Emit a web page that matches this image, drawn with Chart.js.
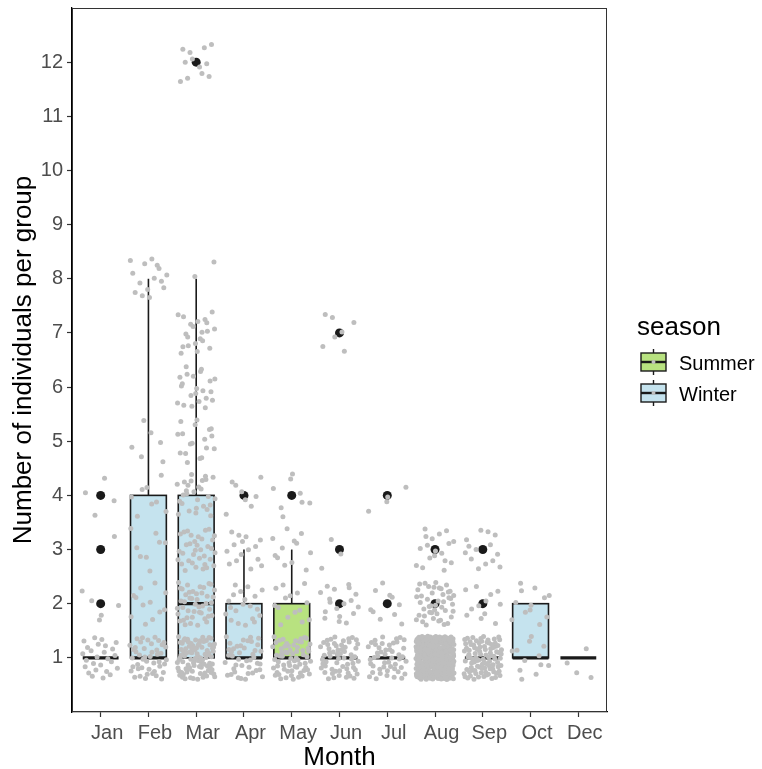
<!DOCTYPE html>
<html>
<head>
<meta charset="utf-8">
<script src="https://cdn.jsdelivr.net/npm/chart.js@4.4.1/dist/chart.umd.min.js"></script>
<style>
  html, body { margin: 0; padding: 0; background: #fff; }
</style>
</head>
<body>
<canvas id="boxChart" width="762" height="769"></canvas>
<script>
// categories and box statistics
const months = ['Jan', 'Feb', 'Mar', 'Apr', 'May', 'Jun', 'Jul', 'Aug', 'Sep', 'Oct', 'Dec'];
const seasons = ['Winter', 'Winter', 'Winter', 'Winter', 'Summer', 'Winter', 'Winter', 'Winter', 'Winter', 'Winter', 'Winter'];
const yTicks = [1, 2, 3, 4, 5, 6, 7, 8, 9, 10, 11, 12];

const q1 = [1, 1, 1, 1, 1, 1, 1, 1, 1, 1, 1];
const medians = [1, 1, 2, 1, 1, 1, 1, 1, 1, 1, 1];
const q3 = [1, 4, 4, 2, 2, 1, 1, 1, 1, 2, 1];
const whiskLow = [1, 1, 1, 1, 1, 1, 1, 1, 1, 1, 1];
const whiskHigh = [1, 8, 8, 3, 3, 1, 1, 1, 1, 2, 1];
const outliers = [[2, 3, 4], [], [12], [4], [4], [2, 3, 7], [2, 4], [2, 3], [2, 3], [], []];

// how many groups of each size (1..12) per month, estimated from the jittered dots
const groupSizes = [1, 2, 3, 4, 5, 6, 7, 8, 9, 10, 11, 12];
const groupCounts = [
  [26, 5, 1, 4],
  [45, 12, 8, 8, 6, 0, 0, 15],
  [90, 45, 35, 28, 18, 22, 21, 2, 0, 0, 0, 12],
  [42, 20, 15, 8],
  [65, 15, 12, 8],
  [58, 18, 3, 0, 0, 0, 7],
  [48, 10, 0, 4],
  [300, 45, 18],
  [95, 12, 14],
  [12, 12],
  [4]
];

const seasonFill = { Summer: 'rgb(184,226,128)', Winter: 'rgb(197,227,238)' };
const legendSeasons = ['Summer', 'Winter'];
const FONT = "'Liberation Sans', Arial, sans-serif";

// jitter: fixed Halton pattern (bases 2 and 3) around each month / group size
function halton(i, b) {
  let f = 1, r = 0;
  while (i > 0) { f /= b; r += f * (i % b); i = Math.floor(i / b); }
  return r;
}
const jitterPoints = [];
groupCounts.forEach((counts, i) => {
  counts.forEach((c, j) => {
    const start = 1 + i * 17 + j * 29;
    for (let k = 0; k < c; k++) {
      const u = halton(start + k, 2);
      const w = halton(start + k, 3);
      jitterPoints.push({ x: i + 1 + (u - 0.5) * 0.8, y: groupSizes[j] + (w - 0.5) * 0.8 });
    }
  });
});

const outlierPoints = [];
outliers.forEach((vals, i) => vals.forEach(v => outlierPoints.push({ x: i + 1, y: v })));

// boxes, whiskers and medians under the dots
const boxPlot = {
  id: 'boxPlot',
  beforeDatasetsDraw(chart) {
    const { ctx, scales: { x, y } } = chart;
    ctx.save();
    ctx.strokeStyle = '#1a1a1a';
    months.forEach((m, i) => {
      const left = x.getPixelForValue(i + 1 - 0.375);
      const right = x.getPixelForValue(i + 1 + 0.375);
      const mid = x.getPixelForValue(i + 1);
      const top = y.getPixelForValue(q3[i]);
      const bottom = y.getPixelForValue(q1[i]);
      ctx.lineWidth = 1.6;
      ctx.beginPath();
      ctx.moveTo(mid, top); ctx.lineTo(mid, y.getPixelForValue(whiskHigh[i]));
      ctx.moveTo(mid, bottom); ctx.lineTo(mid, y.getPixelForValue(whiskLow[i]));
      ctx.stroke();
      if (q3[i] > q1[i]) {
        ctx.fillStyle = seasonFill[seasons[i]];
        ctx.fillRect(left, top, right - left, bottom - top);
        ctx.strokeRect(left, top, right - left, bottom - top);
      }
      const my = y.getPixelForValue(medians[i]);
      ctx.lineWidth = 3.2;
      ctx.beginPath();
      ctx.moveTo(left, my); ctx.lineTo(right, my);
      ctx.stroke();
    });
    ctx.restore();
  }
};

// panel border, axis titles and the season legend
const decorations = {
  id: 'decorations',
  afterDraw(chart) {
    const { ctx, chartArea: a } = chart;
    ctx.save();
    ctx.strokeStyle = '#333';
    ctx.lineWidth = 1;
    ctx.strokeRect(a.left + 0.5, a.top + 0.5, a.right - a.left - 1, a.bottom - a.top - 1);

    ctx.fillStyle = '#000';
    ctx.font = '26px ' + FONT;
    ctx.textAlign = 'center';
    ctx.textBaseline = 'alphabetic';
    ctx.fillText('Month', (a.left + a.right) / 2, 765);
    ctx.save();
    ctx.translate(31, (a.top + a.bottom) / 2);
    ctx.rotate(-Math.PI / 2);
    ctx.fillText('Number of individuals per group', 0, 0);
    ctx.restore();

    ctx.textAlign = 'left';
    ctx.fillText('season', 637, 335);
    ctx.font = '20px ' + FONT;
    legendSeasons.forEach((s, k) => {
      const top = 353 + k * 31;
      const cx = 653.5;
      ctx.strokeStyle = '#1a1a1a';
      ctx.lineWidth = 1.4;
      ctx.beginPath();
      ctx.moveTo(cx, top - 4); ctx.lineTo(cx, top + 22);
      ctx.stroke();
      ctx.fillStyle = seasonFill[s];
      ctx.fillRect(641, top, 25, 18);
      ctx.strokeRect(641, top, 25, 18);
      ctx.lineWidth = 2.4;
      ctx.beginPath();
      ctx.moveTo(641, top + 9); ctx.lineTo(666, top + 9);
      ctx.stroke();
      ctx.fillStyle = '#bebebe';
      ctx.beginPath();
      ctx.arc(cx, top + 9, 2, 0, Math.PI * 2);
      ctx.fill();
      ctx.fillStyle = '#000';
      ctx.fillText(s, 679, top + 17);
    });
    ctx.restore();
  }
};

const tickFont = { family: FONT, size: 20 };

new Chart(document.getElementById('boxChart'), {
  type: 'scatter',
  data: {
    datasets: [
      {
        label: 'groups',
        data: jitterPoints,
        pointRadius: 2.5,
        pointBorderWidth: 0,
        pointBackgroundColor: 'rgb(190,190,190)'
      },
      {
        label: 'outliers',
        data: outlierPoints,
        pointRadius: 4.5,
        pointBorderWidth: 0,
        pointBackgroundColor: '#1a1a1a'
      }
    ]
  },
  options: {
    responsive: false,
    animation: false,
    layout: { autoPadding: false, padding: { left: 0, top: 8, right: 155, bottom: 0 } },
    plugins: { legend: { display: false }, tooltip: { enabled: false } },
    scales: {
      x: {
        type: 'linear',
        min: 0.4,
        max: 11.6,
        afterBuildTicks: s => { s.ticks = months.map((m, i) => ({ value: i + 1 })); },
        afterFit: s => { s.height = 57; s.paddingLeft = 0; s.paddingRight = 0; },
        grid: { drawOnChartArea: false, drawTicks: true, tickLength: 5, tickColor: '#333', tickWidth: 1.2 },
        border: { display: true, color: '#000', width: 1.3 },
        ticks: {
          callback: (v, i) => months[i],
          color: '#4d4d4d',
          font: tickFont,
          padding: 4,
          labelOffset: 6.5,
          maxRotation: 0,
          autoSkip: false
        }
      },
      y: {
        type: 'linear',
        min: 0,
        max: 13,
        afterBuildTicks: s => { s.ticks = yTicks.map(v => ({ value: v })); },
        afterFit: s => { s.width = 72; s.paddingTop = 0; s.paddingBottom = 0; },
        grid: { drawOnChartArea: false, drawTicks: true, tickLength: 5, tickColor: '#333', tickWidth: 1.2 },
        border: { display: true, color: '#000', width: 1.3 },
        ticks: {
          callback: v => String(v),
          color: '#4d4d4d',
          font: tickFont,
          padding: 4
        }
      }
    }
  },
  plugins: [boxPlot, decorations]
});
</script>
</body>
</html>
